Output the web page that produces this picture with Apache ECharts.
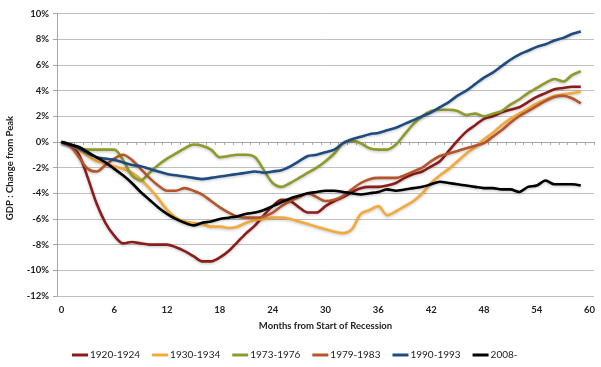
<!DOCTYPE html>
<html>
<head>
<meta charset="utf-8">
<script src="https://cdn.jsdelivr.net/npm/echarts@6/dist/echarts.min.js"></script>
<style>
html,body{margin:0;padding:0;background:#fff;}
#chart{width:601px;height:367px;}
</style>
</head>
<body>
<div id="chart"></div>
<script>
var months = [];
for (var i = 0; i <= 60; i++) months.push(String(i));

var s1920 = [0,-0.3,-1.0,-2.8,-4.8,-6.3,-7.3,-7.9,-7.8,-7.9,-8.0,-8.0,-8.0,-8.2,-8.5,-8.9,-9.3,-9.3,-9.0,-8.5,-7.8,-7.1,-6.5,-5.7,-5.0,-4.5,-4.6,-5.1,-5.5,-5.5,-5.0,-4.6,-4.3,-3.9,-3.6,-3.5,-3.5,-3.4,-3.2,-2.8,-2.5,-2.3,-1.9,-1.5,-0.7,0.1,0.8,1.3,1.8,2.0,2.3,2.5,2.7,3.1,3.5,3.8,4.1,4.2,4.3,4.3];
var s1930 = [0,-0.2,-0.6,-1.1,-1.5,-1.7,-1.9,-2.1,-2.4,-2.9,-3.6,-4.4,-5.3,-5.9,-6.2,-6.3,-6.4,-6.6,-6.6,-6.7,-6.6,-6.3,-6.1,-6.0,-5.9,-5.9,-6.0,-6.2,-6.4,-6.6,-6.8,-7.0,-7.1,-6.8,-5.6,-5.3,-5.0,-5.7,-5.4,-5.0,-4.6,-4.0,-3.2,-2.6,-2.1,-1.5,-0.9,-0.4,0.2,0.7,1.3,1.8,2.2,2.6,3.0,3.3,3.6,3.7,3.8,3.9];
var s1973 = [0,-0.2,-0.5,-0.6,-0.6,-0.6,-0.6,-1.4,-2.6,-3.0,-2.4,-1.8,-1.3,-0.9,-0.5,-0.2,-0.3,-0.6,-1.2,-1.1,-1.0,-1.0,-1.2,-2.2,-3.2,-3.5,-3.2,-2.8,-2.4,-2.0,-1.5,-0.9,-0.1,0.1,-0.1,-0.5,-0.6,-0.6,-0.2,0.6,1.4,2.0,2.4,2.5,2.5,2.4,2.1,2.2,2.0,2.2,2.4,2.9,3.3,3.8,4.2,4.6,4.9,4.7,5.2,5.5];
var s1979 = [0,-0.3,-1.2,-2.1,-2.3,-1.8,-1.3,-1.0,-1.4,-2.1,-2.8,-3.4,-3.8,-3.8,-3.6,-3.8,-4.1,-4.6,-5.1,-5.5,-5.8,-5.9,-5.9,-5.8,-5.5,-5.0,-4.6,-4.3,-4.0,-4.3,-4.6,-4.5,-4.2,-3.7,-3.2,-2.9,-2.8,-2.8,-2.8,-2.6,-2.3,-2.0,-1.5,-1.1,-0.9,-0.7,-0.5,-0.3,-0.1,0.4,0.9,1.5,2.0,2.4,2.8,3.2,3.5,3.6,3.4,3.0];
var s1990 = [0,-0.2,-0.5,-0.9,-1.2,-1.3,-1.4,-1.6,-1.8,-1.9,-2.1,-2.3,-2.5,-2.6,-2.7,-2.8,-2.9,-2.8,-2.7,-2.6,-2.5,-2.4,-2.3,-2.4,-2.3,-2.2,-1.9,-1.5,-1.1,-1.0,-0.8,-0.6,-0.1,0.2,0.4,0.6,0.7,0.9,1.1,1.4,1.7,2.0,2.3,2.7,3.1,3.6,4.0,4.5,5.0,5.4,5.9,6.4,6.8,7.1,7.4,7.6,7.9,8.1,8.4,8.6];
var s2008 = [0,-0.2,-0.4,-0.8,-1.2,-1.6,-2.1,-2.6,-3.2,-3.9,-4.5,-5.1,-5.6,-6.0,-6.3,-6.5,-6.3,-6.2,-6.0,-5.9,-5.8,-5.6,-5.5,-5.3,-5.0,-4.7,-4.4,-4.2,-4.0,-3.9,-3.8,-3.8,-3.9,-4.0,-4.1,-4.0,-3.9,-3.7,-3.8,-3.7,-3.6,-3.5,-3.3,-3.1,-3.2,-3.3,-3.4,-3.5,-3.6,-3.6,-3.7,-3.7,-3.9,-3.5,-3.4,-3.0,-3.3,-3.3,-3.3,-3.4];

var seriesNames = ['1920-1924','1930-1934','1973-1976','1979-1983','1990-1993','2008-'];
var seriesData = [s1920, s1930, s1973, s1979, s1990, s2008];
var seriesColors = ['#8B1C1C','#F4A93C','#8E9B2C','#B4552B','#1F4B7E','#000000'];
var yAxisTitle = 'GDP : Change from Peak';
var xAxisTitle = 'Months from Start of Recession';

var FONT = 'Lato';
var chart = echarts.init(document.getElementById('chart'), null, {renderer:'canvas'});
var series = seriesNames.map(function(n, i){
  return {
    name: n, type: 'line', data: seriesData[i], xAxisIndex: 1,
    smooth: 0.3, symbol: 'none', animation: false,
    lineStyle: {width: 2.6, color: seriesColors[i], shadowColor: 'rgba(0,0,0,0.25)', shadowBlur: 3, shadowOffsetY: 1},
    itemStyle: {color: seriesColors[i]}
  };
});
chart.setOption({
  animation: false,
  textStyle: {fontFamily: FONT},
  grid: {left: 57, right: 7, top: 13.5, bottom: 71},
  legend: {
    data: seriesNames, left: 67, top: 345, icon: 'rect', itemWidth: 16, itemHeight: 3,
    itemGap: 12, textStyle: {fontFamily: FONT, fontSize: 10, color: '#222', padding: [0, 0, 0, -3]}
  },
  graphic: [{
    type: 'text', x: 10, y: 168, rotation: Math.PI / 2,
    style: {text: yAxisTitle, align: 'center', verticalAlign: 'middle',
      font: 'bold 9.5px Lato', fill: '#222'}
  }],
  xAxis: [{
    type: 'category', data: months, boundaryGap: true, position: 'bottom',
    axisLine: {show: false, onZero: false}, axisTick: {show: false},
    axisLabel: {interval: 5, margin: 9, fontFamily: FONT, fontSize: 9.5, fontWeight: 'bold', color: '#222'},
    name: xAxisTitle, nameLocation: 'middle', nameGap: 25,
    nameTextStyle: {fontFamily: FONT, fontSize: 9.5, fontWeight: 'bold', color: '#222'}
  },{
    type: 'category', data: months, boundaryGap: true, position: 'bottom',
    axisLine: {show: true, onZero: true, lineStyle: {color: '#A6A6A6', width: 1}},
    axisTick: {show: true, interval: 0, length: 3, lineStyle: {color: '#A6A6A6'}},
    axisLabel: {show: false}, splitLine: {show: false}
  }],
  yAxis: {
    type: 'value', min: -12, max: 10, interval: 2,
    axisLine: {show: true, lineStyle: {color: '#A6A6A6'}},
    axisTick: {show: true, length: 4, lineStyle: {color: '#A6A6A6'}},
    splitLine: {lineStyle: {color: '#BFBFBF', width: 1}},
    axisLabel: {formatter: '{value}%', margin: 8, fontFamily: FONT, fontSize: 9.5, fontWeight: 'bold', color: '#222'}
  },
  series: series
});
</script>
</body>
</html>
